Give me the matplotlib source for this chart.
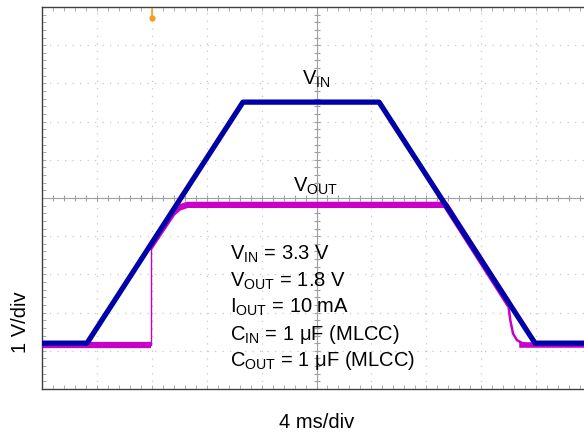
import numpy as np
import matplotlib
matplotlib.use('Agg')
import matplotlib.pyplot as plt

plt.rcParams['font.family'] = ['Liberation Sans', 'DejaVu Sans']
plt.rcParams['mathtext.fontset'] = 'custom'
plt.rcParams['mathtext.rm'] = 'Liberation Sans'

# scope traces, in screen divisions (x: 4 ms/div, y: 1 V/div)
vin_x = [0.0, 0.82, 3.66, 6.14, 8.98, 10.3]
vin_y = [1.20, 1.20, 7.51, 7.51, 1.20, 1.20]

vout_base_x = [0.0, 1.98]
vout_base_y = [1.16, 1.16]
vout_edge_x = [1.98, 1.98]
vout_edge_y = [1.16, 3.74]
vout_x = [1.98, 2.25, 2.38, 2.50, 2.65, 7.35, 8.49]
vout_y = [3.74, 4.32, 4.60, 4.75, 4.82, 4.82, 2.25]
vout_fall_x = [8.49, 8.53, 8.58, 8.65, 8.75, 8.90]
vout_fall_y = [2.25, 1.80, 1.45, 1.28, 1.20, 1.16]
vout_end_x = [8.75, 10.3]
vout_end_y = [1.15, 1.15]

labels = [r'V$_{\mathregular{IN}}$ = 3.3 V',
          r'V$_{\mathregular{OUT}}$ = 1.8 V',
          r'I$_{\mathregular{OUT}}$ = 10 mA',
          r'C$_{\mathregular{IN}}$ = 1 μF (MLCC)',
          r'C$_{\mathregular{OUT}}$ = 1 μF (MLCC)']

fig = plt.figure(figsize=(5.84, 4.35), dpi=100)
ax = fig.add_axes([42/584, 45/435, 549/584, 382/435])
ax.set_xlim(0, 10)
ax.set_ylim(0, 10)

# graticule
for v in range(1, 10):
    ax.axvline(v, color='#c8c8c8', lw=0.9, ls=(0, (1, 5)), zorder=0)
    ax.axhline(v, color='#c8c8c8', lw=0.9, ls=(0, (1, 5)), zorder=0)
ax.axvline(5, color='#a0a0a0', lw=0.8, zorder=0)
ax.axhline(5, color='#a0a0a0', lw=0.8, zorder=0)
t = np.arange(0, 10.01, 0.2)
ax.plot(t, np.full_like(t, 5), ls='none', marker='|', ms=4, color='#a0a0a0', mew=0.8, zorder=0)
ax.plot(np.full_like(t, 5), t, ls='none', marker='_', ms=4, color='#a0a0a0', mew=0.8, zorder=0)

ax.set_xticks([])
ax.set_yticks([])
ax.set_xticks(t, minor=True)
ax.set_yticks(t, minor=True)
ax.tick_params(which='minor', direction='in', length=3, color='#a0a0a0',
               top=True, right=True, labelbottom=False, labelleft=False)
for s in ['left', 'top', 'bottom']:
    ax.spines[s].set_color('#404040')
    ax.spines[s].set_linewidth(1.0)

# traces
mag = '#c800c8'
ax.plot(vout_base_x, vout_base_y, color=mag, lw=4.5, solid_capstyle='butt', zorder=2)
ax.plot(vout_edge_x, vout_edge_y, color=mag, lw=1.0, zorder=2)
ax.plot(vout_x, vout_y, color=mag, lw=4.5, solid_joinstyle='round', zorder=2)
ax.plot(vout_fall_x, vout_fall_y, color=mag, lw=1.8, zorder=2)
ax.plot(vout_end_x, vout_end_y, color=mag, lw=4.0, zorder=2)
ax.plot(vin_x, vin_y, color='#0000a8', lw=3.8, solid_joinstyle='round', zorder=3)

# trigger marker
ax.plot([2.0, 2.0], [9.95, 9.75], color='#f0a020', lw=1.2, zorder=4, clip_on=False)
ax.plot([2.0], [9.72], marker='o', ms=3.5, color='#f0a020', zorder=4)

ax.text(4.99, 7.98, r'V$_{\mathregular{IN}}$', fontsize=14.5, ha='center', va='baseline')
ax.text(4.99, 5.18, r'V$_{\mathregular{OUT}}$', fontsize=14.5, ha='center', va='baseline')
for i, s in enumerate(labels):
    ax.text(3.42, 3.40 - i * 0.694, s, fontsize=14.5, ha='left', va='baseline')

fig.text(20/584, 1 - 322/435, '1 V/div', rotation=90, fontsize=14.5, ha='center', va='center')
fig.text(317/584, 1 - 423/435, '4 ms/div', fontsize=14.5, ha='center', va='center')

fig.savefig('out.png', dpi=100)
